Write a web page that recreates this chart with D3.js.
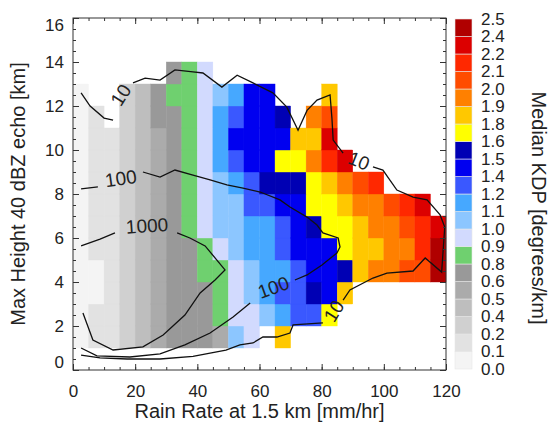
<!DOCTYPE html>
<html>
<head>
<meta charset="utf-8">
<script src="https://cdn.jsdelivr.net/npm/d3@7"></script>
<style>
body { margin: 0; background: #fff; }
text { font-family: "Liberation Sans", Arial, Helvetica, sans-serif; fill: #222; }
</style>
</head>
<body>
<div id="chart"></div>
<script>
// rain-rate bins at 1.5 km (mm/hr), lower edges, 5 mm/hr wide
var rainBins = [0, 5, 10, 15, 20, 25, 30, 35, 40, 45, 50, 55, 60, 65, 70, 75, 80, 85, 90, 95, 100, 105, 110, 115];
// max height of 40 dBZ echo (km), lower edges, 1 km tall
var heightBins = [0, 1, 2, 3, 4, 5, 6, 7, 8, 9, 10, 11, 12, 13, 14, 15];

var _ = null;
// median KDP (deg/km), one row per height bin (row 0 = 0-1 km)
var kdpGrid = [
  [_, _, _, _, _, _, _, _, _, _, _, _, _, _, _, _, _, _, _, _, _, _, _, _],
  [0.06, 0.19, 0.19, 0.31, 0.44, 0.56, 0.69, 0.69, 0.69, 0.56, 1.06, 0.94, _, 1.81, _, _, _, _, _, _, _, _, _, _],
  [0.06, 0.19, 0.19, 0.31, 0.44, 0.56, 0.69, 0.69, 0.69, 0.81, 0.94, 0.94, 1.06, 1.19, 1.31, 1.31, 1.69, _, _, _, _, _, _, _],
  [0.06, 0.06, 0.19, 0.31, 0.44, 0.56, 0.69, 0.69, 0.69, 0.81, 0.94, 1.06, 1.19, 1.31, 1.31, 1.56, 1.44, 1.81, _, _, _, _, _, _],
  [0.06, 0.06, 0.19, 0.31, 0.44, 0.56, 0.69, 0.69, 0.81, 0.81, 0.94, 1.06, 1.19, 1.19, 1.31, 1.44, 1.44, 1.56, 1.81, 1.94, 1.94, 2.06, 2.06, 2.44],
  [0.06, 0.19, 0.19, 0.31, 0.44, 0.56, 0.69, 0.69, 0.81, 0.94, 1.06, 1.19, 1.19, 1.31, 1.44, 1.44, 1.44, 1.69, 1.81, 1.81, 1.94, 1.94, 2.19, 2.44],
  [0.06, 0.19, 0.19, 0.31, 0.44, 0.56, 0.69, 0.81, 0.94, 1.06, 1.06, 1.19, 1.19, 1.31, 1.44, 1.56, 1.69, 1.69, 1.81, 1.94, 1.94, 2.06, 2.19, 2.31],
  [0.06, 0.19, 0.19, 0.31, 0.44, 0.56, 0.69, 0.81, 0.94, 1.06, 1.06, 1.31, 1.31, 1.44, 1.44, 1.69, 1.69, 1.81, 1.94, 1.94, 2.06, 2.19, 2.31, _],
  [0.06, 0.19, 0.19, 0.31, 0.44, 0.56, 0.69, 0.81, 0.94, 1.06, 1.19, 1.31, 1.56, 1.56, 1.56, 1.69, 1.81, 1.94, 2.06, 2.19, _, _, _, _],
  [0.06, 0.19, 0.19, 0.31, 0.44, 0.56, 0.69, 0.81, 0.94, 1.19, 1.31, 1.44, 1.44, 1.69, 1.69, 1.94, 2.19, 2.31, _, _, _, _, _, _],
  [0.06, 0.19, 0.19, 0.31, 0.44, 0.56, 0.69, 0.81, 0.94, 1.19, 1.44, 1.44, 1.44, 1.44, 1.81, 1.81, 2.31, _, _, _, _, _, _, _],
  [0.06, 0.19, _, 0.31, 0.44, 0.69, 0.69, 0.81, 0.94, 1.19, 1.31, 1.44, 1.44, 1.56, _, 1.94, 2.06, _, _, _, _, _, _, _],
  [0.06, _, _, 0.31, 0.44, 0.69, 0.81, 0.81, 0.94, 1.06, 1.19, 1.44, 1.44, _, _, _, 1.81, _, _, _, _, _, _, _],
  [_, _, _, _, _, _, 0.69, 0.81, 0.94, _, _, _, _, _, _, _, _, _, _, _, _, _, _, _],
  [_, _, _, _, _, _, _, _, _, _, _, _, _, _, _, _, _, _, _, _, _, _, _, _],
  [_, _, _, _, _, _, _, _, _, _, _, _, _, _, _, _, _, _, _, _, _, _, _, _]
];

// colour bar levels
var kdpEdges = [0, 0.125, 0.25, 0.375, 0.5, 0.625, 0.75, 0.875, 1.0, 1.125, 1.25,
                1.375, 1.5, 1.625, 1.75, 1.875, 2.0, 2.125, 2.25, 2.375, 2.5];
var kdpTickLabels = ["0.0", "0.1", "0.2", "0.4", "0.5", "0.6", "0.8", "0.9", "1.0", "1.1", "1.2",
                     "1.4", "1.5", "1.6", "1.8", "1.9", "2.0", "2.1", "2.2", "2.4", "2.5"];
var kdpColors = ["#f4f4f4", "#e2e2e2", "#d0d0d0", "#bebebe", "#ababab", "#999999", "#6fd06f",
                 "#d2dafe", "#8cc6ff", "#46a8ff", "#3a58ff", "#0000f0", "#0000b4", "#ffff00",
                 "#ffc800", "#ff8000", "#ff4c00", "#ff2800", "#dc0000", "#b00000"];

var xTicks = [0, 20, 40, 60, 80, 100, 120];
var yTicks = [0, 2, 4, 6, 8, 10, 12, 14, 16];

// sample-count contours, [rain rate, height] pieces broken at the labels
var contour10 = [
  [[2.6, 12.6], [5.5, 12.0], [10.0, 11.45], [12.9, 11.36]],
  [[19.3, 13.05], [23.2, 13.27], [28.0, 13.18], [32.8, 13.64], [38.6, 13.55], [41.8, 13.5], [47.9, 12.86],
   [52.8, 13.4], [57.9, 13.05], [64.3, 12.6], [68.8, 11.95], [72.4, 10.9], [75.3, 11.8], [78.5, 12.27],
   [82.7, 12.5], [83.3, 11.45], [83.7, 10.45], [86.9, 9.86]],
  [[96.5, 9.23], [99.7, 9.09], [104.2, 8.18], [109.4, 7.86], [113.9, 7.73], [118.1, 7.05], [119.6, 6.5],
   [118.6, 4.45], [113.3, 5.09], [109.4, 4.5], [101.0, 4.4], [96.5, 4.18], [89.1, 3.64], [86.9, 3.18]],
  [[80.4, 2.14], [70.8, 2.05], [69.8, 1.68], [65.6, 1.5], [61.1, 1.5], [57.9, 1.23], [53.7, 1.14],
   [49.2, 0.9], [44.1, 0.77], [38.6, 0.62], [28.0, 0.5], [17.4, 0.5], [8.7, 0.55], [2.6, 0.68]]
];
var contour100 = [
  [[2.6, 8.23], [8.0, 8.32]],
  [[22.5, 9.0], [28.0, 8.77], [32.8, 9.09], [38.6, 8.86], [44.1, 8.64], [49.5, 8.41], [54.7, 8.27],
   [60.2, 8.09], [66.6, 7.73], [69.8, 7.41], [75.3, 6.95], [78.5, 6.59], [80.4, 6.23], [85.3, 6.0],
   [85.9, 5.59], [84.9, 5.32], [80.1, 4.77], [75.3, 4.32], [71.4, 4.09]],
  [[57.0, 3.05], [51.5, 2.41], [44.1, 1.68], [36.0, 1.14], [28.0, 0.73], [18.3, 0.59], [7.7, 0.64], [2.6, 1.0]]
];
var contour1000 = [
  [[2.6, 5.64], [8.7, 5.95], [13.5, 6.23]],
  [[33.5, 6.23], [37.6, 6.0], [42.5, 5.64], [48.9, 4.55], [45.7, 4.09], [40.9, 3.5], [36.0, 2.5],
   [29.0, 1.59], [22.5, 1.05], [12.9, 0.91], [6.4, 1.36], [3.2, 2.59]]
];
var contourLabels = [
  { text: "10", x: 15.4, y: 12.5, angle: -58 },
  { text: "10", x: 92.0, y: 9.5, angle: 22 },
  { text: "10", x: 84.0, y: 2.68, angle: -58 },
  { text: "100", x: 15.4, y: 8.7, angle: -8 },
  { text: "100", x: 64.5, y: 3.75, angle: -20 },
  { text: "1000", x: 23.8, y: 6.55, angle: -4 }
];

var W = 553, H = 425;
var svg = d3.select("#chart").append("svg")
    .attr("width", W)
    .attr("height", H);

var x = d3.scaleLinear().domain([0, 120]).range([73, 446]);
var y = d3.scaleLinear().domain([0, 16]).range([370, 18]);

var color = d3.scaleThreshold()
    .domain(kdpEdges.slice(1, -1))
    .range(kdpColors);

// heatmap cells
var cells = [];
kdpGrid.forEach(function(row, j) {
  row.forEach(function(v, i) {
    if (v !== null) cells.push({ r: rainBins[i], h: heightBins[j], v: v });
  });
});

svg.append("g").selectAll("rect")
    .data(cells)
    .enter()
    .append("rect")
    .attr("x", function(d) { return x(d.r); })
    .attr("y", function(d) { return y(d.h + 1); })
    .attr("width", function(d) { return x(d.r + 5) - x(d.r); })
    .attr("height", function(d) { return y(d.h) - y(d.h + 1); })
    .attr("fill", function(d) { return color(d.v); })
    .attr("stroke", function(d) { return color(d.v); })
    .attr("stroke-width", 0.4);

// contours
var line = d3.line()
    .x(function(d) { return x(d[0]); })
    .y(function(d) { return y(d[1]); })
    .curve(d3.curveLinear);

svg.append("g").selectAll("path")
    .data(contour10.concat(contour100, contour1000))
    .enter()
    .append("path")
    .attr("d", line)
    .attr("fill", "none")
    .attr("stroke", "#111")
    .attr("stroke-width", 1.3);

svg.append("g").selectAll("text")
    .data(contourLabels)
    .enter()
    .append("text")
    .attr("transform", function(d) { return "translate(" + x(d.x) + "," + y(d.y) + ") rotate(" + d.angle + ")"; })
    .attr("text-anchor", "middle")
    .attr("dominant-baseline", "central")
    .style("font-size", "19px")
    .text(function(d) { return d.text; });

// axes, ticks pointing inwards on all four sides
function styleAxis(g) {
  g.select(".domain").remove();
  g.selectAll("line").attr("stroke", "#333");
  g.selectAll("text").style("font-size", "17px").attr("fill", "#222");
}

var minorX = d3.range(0, 121, 5), minorY = d3.range(0, 16.01, 0.5);

svg.append("g").attr("transform", "translate(0,370)")
    .call(d3.axisBottom(x).tickValues(minorX).tickSize(-3).tickFormat(""))
    .call(styleAxis);
svg.append("g").attr("transform", "translate(0,370)")
    .call(d3.axisBottom(x).tickValues(xTicks).tickSize(-6).tickPadding(15).tickFormat(d3.format("d")))
    .call(styleAxis);
svg.append("g").attr("transform", "translate(0,18)")
    .call(d3.axisTop(x).tickValues(minorX).tickSize(-3).tickFormat(""))
    .call(styleAxis);
svg.append("g").attr("transform", "translate(0,18)")
    .call(d3.axisTop(x).tickValues(xTicks).tickSize(-6).tickFormat(""))
    .call(styleAxis);

svg.append("g").attr("transform", "translate(73,0)")
    .call(d3.axisLeft(y).tickValues(minorY).tickSize(-3).tickFormat(""))
    .call(styleAxis);
var yAxis = svg.append("g").attr("transform", "translate(73,0)")
    .call(d3.axisLeft(y).tickValues(yTicks).tickSize(-6).tickPadding(9).tickFormat(d3.format("d")))
    .call(styleAxis);
// end labels sit inside the frame
yAxis.selectAll(".tick text")
    .attr("dy", function(d) { return d === 0 ? "-0.15em" : (d === 16 ? "0.75em" : "0.32em"); });
svg.append("g").attr("transform", "translate(446,0)")
    .call(d3.axisRight(y).tickValues(minorY).tickSize(-3).tickFormat(""))
    .call(styleAxis);
svg.append("g").attr("transform", "translate(446,0)")
    .call(d3.axisRight(y).tickValues(yTicks).tickSize(-6).tickFormat(""))
    .call(styleAxis);

svg.append("rect")
    .attr("x", x(0)).attr("y", y(16))
    .attr("width", x(120) - x(0)).attr("height", y(0) - y(16))
    .attr("fill", "none")
    .attr("stroke", "#333")
    .attr("stroke-width", 1);

// axis titles
svg.append("text")
    .attr("x", (x(0) + x(120)) / 2)
    .attr("y", 411)
    .attr("text-anchor", "middle")
    .attr("dominant-baseline", "central")
    .style("font-size", "20px")
    .text("Rain Rate at 1.5 km [mm/hr]");

svg.append("text")
    .attr("transform", "translate(18," + (y(8)) + ") rotate(-90)")
    .attr("text-anchor", "middle")
    .attr("dominant-baseline", "central")
    .style("font-size", "20px")
    .text("Max Height 40 dBZ echo [km]");

// colour bar
var cb = d3.scaleLinear().domain([0, 2.5]).range([369, 19]);
var cbX = 455, cbW = 17;

svg.append("g").selectAll("rect")
    .data(kdpColors)
    .enter()
    .append("rect")
    .attr("x", cbX)
    .attr("y", function(d, i) { return cb(kdpEdges[i + 1]); })
    .attr("width", cbW)
    .attr("height", function(d, i) { return cb(kdpEdges[i]) - cb(kdpEdges[i + 1]); })
    .attr("fill", function(d) { return d; })
    .attr("stroke", "#e6e6e6")
    .attr("stroke-width", 0.6);

svg.append("g").selectAll("text")
    .data(kdpTickLabels)
    .enter()
    .append("text")
    .attr("x", 481)
    .attr("y", function(d, i) { return cb(kdpEdges[i]); })
    .attr("dominant-baseline", "central")
    .style("font-size", "17px")
    .text(function(d) { return d; });

svg.append("text")
    .attr("transform", "translate(539,208) rotate(90)")
    .attr("text-anchor", "middle")
    .attr("dominant-baseline", "central")
    .style("font-size", "20px")
    .text("Median KDP [degrees/km]");
</script>
</body>
</html>
